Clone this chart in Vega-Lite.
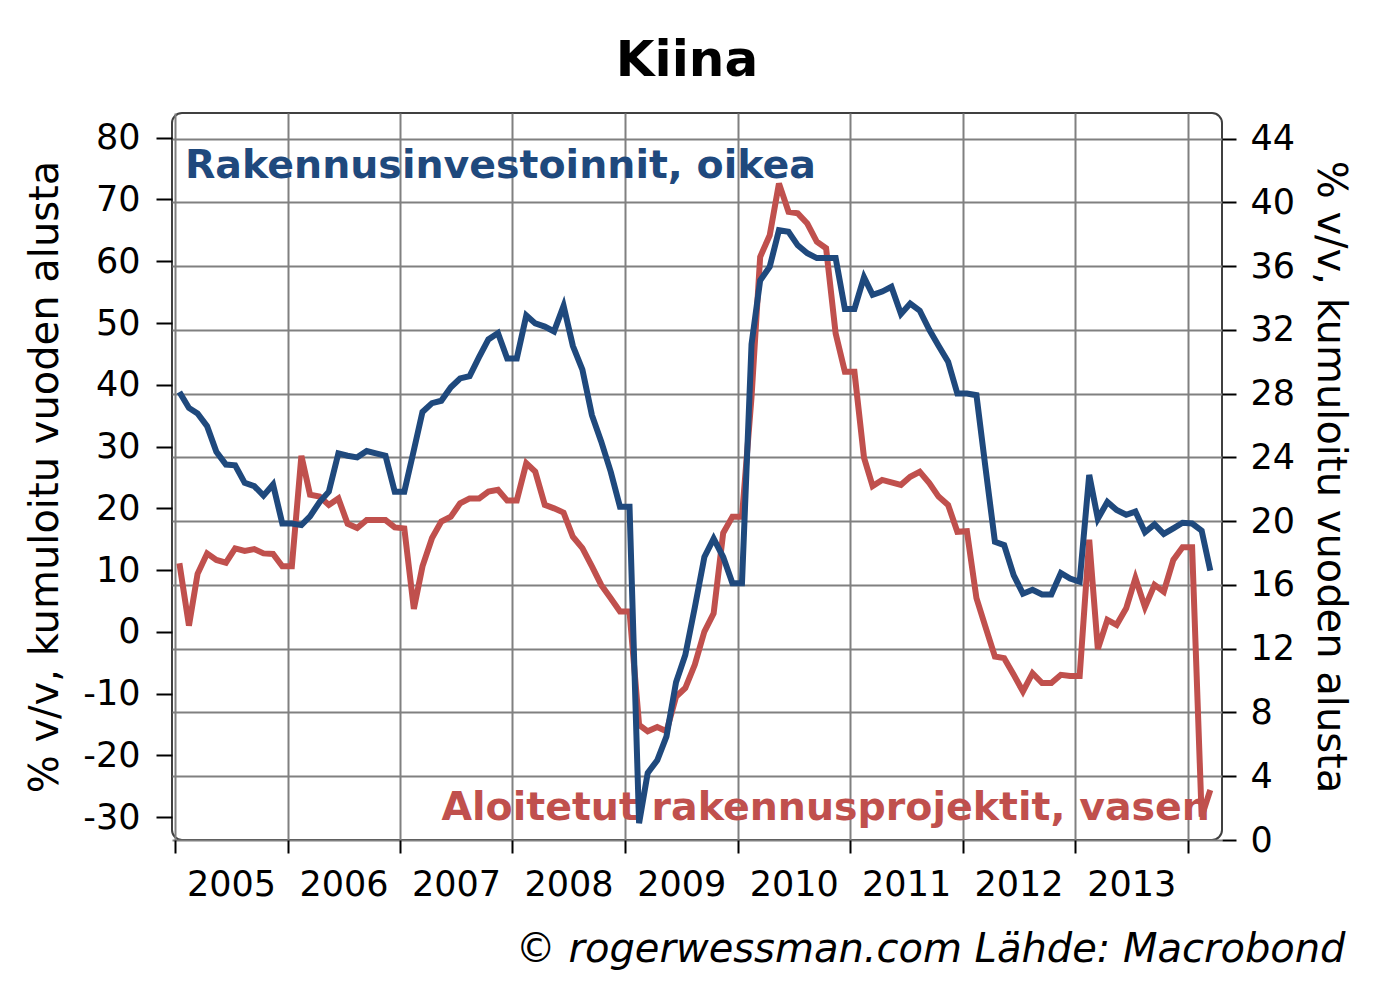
{
  "$schema": "https://vega.github.io/schema/vega-lite/v6.json",
  "width": 1050,
  "height": 727,
  "autosize": {"type": "none"},
  "padding": {"left": 172, "top": 113, "right": 153, "bottom": 160},
  "background": "white",
  "title": {"text": "Kiina", "fontSize": 50, "font": "DejaVu Sans", "fontWeight": "bold", "anchor": "middle", "dx": -10, "dy": 49, "baseline": "alphabetic", "offset": 36, "color": "black"},
  "config": {
    "font": "DejaVu Sans",
    "view": {"stroke": "#404040", "strokeWidth": 2, "cornerRadius": 10}
  },
  "datasets": {
    "series": [
      {"date": "2005-01-15", "aloitetut": 11.1, "investoinnit": 28.1},
      {"date": "2005-02-15", "aloitetut": 1.0, "investoinnit": 27.1},
      {"date": "2005-03-15", "aloitetut": 9.4, "investoinnit": 26.75},
      {"date": "2005-04-15", "aloitetut": 12.7, "investoinnit": 25.95},
      {"date": "2005-05-15", "aloitetut": 11.65, "investoinnit": 24.35},
      {"date": "2005-06-15", "aloitetut": 11.2, "investoinnit": 23.55},
      {"date": "2005-07-15", "aloitetut": 13.5, "investoinnit": 23.5},
      {"date": "2005-08-15", "aloitetut": 13.1, "investoinnit": 22.4},
      {"date": "2005-09-15", "aloitetut": 13.4, "investoinnit": 22.2},
      {"date": "2005-10-15", "aloitetut": 12.7, "investoinnit": 21.6},
      {"date": "2005-11-15", "aloitetut": 12.6, "investoinnit": 22.3},
      {"date": "2005-12-15", "aloitetut": 10.6, "investoinnit": 19.85},
      {"date": "2006-01-15", "aloitetut": 10.6, "investoinnit": 19.85},
      {"date": "2006-02-15", "aloitetut": 28.5, "investoinnit": 19.75},
      {"date": "2006-03-15", "aloitetut": 22.2, "investoinnit": 20.3},
      {"date": "2006-04-15", "aloitetut": 21.9, "investoinnit": 21.2},
      {"date": "2006-05-15", "aloitetut": 20.55, "investoinnit": 21.85},
      {"date": "2006-06-15", "aloitetut": 21.6, "investoinnit": 24.25},
      {"date": "2006-07-15", "aloitetut": 17.5, "investoinnit": 24.1},
      {"date": "2006-08-15", "aloitetut": 16.8, "investoinnit": 24.0},
      {"date": "2006-09-15", "aloitetut": 18.1, "investoinnit": 24.4},
      {"date": "2006-10-15", "aloitetut": 18.1, "investoinnit": 24.25},
      {"date": "2006-11-15", "aloitetut": 18.1, "investoinnit": 24.1},
      {"date": "2006-12-15", "aloitetut": 16.9, "investoinnit": 21.85},
      {"date": "2007-01-15", "aloitetut": 16.75, "investoinnit": 21.85},
      {"date": "2007-02-15", "aloitetut": 3.7, "investoinnit": 24.45},
      {"date": "2007-03-15", "aloitetut": 10.6, "investoinnit": 26.85},
      {"date": "2007-04-15", "aloitetut": 15.2, "investoinnit": 27.4},
      {"date": "2007-05-15", "aloitetut": 17.85, "investoinnit": 27.55},
      {"date": "2007-06-15", "aloitetut": 18.65, "investoinnit": 28.4},
      {"date": "2007-07-15", "aloitetut": 20.8, "investoinnit": 28.95},
      {"date": "2007-08-15", "aloitetut": 21.6, "investoinnit": 29.1},
      {"date": "2007-09-15", "aloitetut": 21.6, "investoinnit": 30.3},
      {"date": "2007-10-15", "aloitetut": 22.7, "investoinnit": 31.4},
      {"date": "2007-11-15", "aloitetut": 23.0, "investoinnit": 31.8},
      {"date": "2007-12-15", "aloitetut": 21.25, "investoinnit": 30.2},
      {"date": "2008-01-15", "aloitetut": 21.25, "investoinnit": 30.2},
      {"date": "2008-02-15", "aloitetut": 27.3, "investoinnit": 32.9},
      {"date": "2008-03-15", "aloitetut": 25.95, "investoinnit": 32.4},
      {"date": "2008-04-15", "aloitetut": 20.55, "investoinnit": 32.2},
      {"date": "2008-05-15", "aloitetut": 20.0, "investoinnit": 31.9},
      {"date": "2008-06-15", "aloitetut": 19.3, "investoinnit": 33.5},
      {"date": "2008-07-15", "aloitetut": 15.4, "investoinnit": 31.0},
      {"date": "2008-08-15", "aloitetut": 13.55, "investoinnit": 29.5},
      {"date": "2008-09-15", "aloitetut": 10.6, "investoinnit": 26.65},
      {"date": "2008-10-15", "aloitetut": 7.6, "investoinnit": 25.0},
      {"date": "2008-11-15", "aloitetut": 5.45, "investoinnit": 23.1},
      {"date": "2008-12-15", "aloitetut": 3.3, "investoinnit": 20.9},
      {"date": "2009-01-15", "aloitetut": 3.3, "investoinnit": 20.9},
      {"date": "2009-02-15", "aloitetut": -15.05, "investoinnit": 1.05},
      {"date": "2009-03-15", "aloitetut": -16.1, "investoinnit": 4.2},
      {"date": "2009-04-15", "aloitetut": -15.4, "investoinnit": 5.0},
      {"date": "2009-05-15", "aloitetut": -16.1, "investoinnit": 6.5},
      {"date": "2009-06-15", "aloitetut": -10.5, "investoinnit": 9.9},
      {"date": "2009-07-15", "aloitetut": -9.1, "investoinnit": 11.6},
      {"date": "2009-08-15", "aloitetut": -5.3, "investoinnit": 14.6},
      {"date": "2009-09-15", "aloitetut": 0.05, "investoinnit": 17.75},
      {"date": "2009-10-15", "aloitetut": 3.0, "investoinnit": 18.9},
      {"date": "2009-11-15", "aloitetut": 16.0, "investoinnit": 17.75},
      {"date": "2009-12-15", "aloitetut": 18.65, "investoinnit": 16.1},
      {"date": "2010-01-15", "aloitetut": 18.65, "investoinnit": 16.1},
      {"date": "2010-02-15", "aloitetut": 38.0, "investoinnit": 31.1},
      {"date": "2010-03-15", "aloitetut": 60.7, "investoinnit": 35.1},
      {"date": "2010-04-15", "aloitetut": 64.2, "investoinnit": 35.95},
      {"date": "2010-05-15", "aloitetut": 72.6, "investoinnit": 38.25},
      {"date": "2010-06-15", "aloitetut": 68.0, "investoinnit": 38.15},
      {"date": "2010-07-15", "aloitetut": 67.75, "investoinnit": 37.3},
      {"date": "2010-08-15", "aloitetut": 66.1, "investoinnit": 36.8},
      {"date": "2010-09-15", "aloitetut": 63.15, "investoinnit": 36.5},
      {"date": "2010-10-15", "aloitetut": 62.1, "investoinnit": 36.5},
      {"date": "2010-11-15", "aloitetut": 48.3, "investoinnit": 36.5},
      {"date": "2010-12-15", "aloitetut": 42.1, "investoinnit": 33.3},
      {"date": "2011-01-15", "aloitetut": 42.1, "investoinnit": 33.3},
      {"date": "2011-02-15", "aloitetut": 28.2, "investoinnit": 35.3},
      {"date": "2011-03-15", "aloitetut": 23.6, "investoinnit": 34.2},
      {"date": "2011-04-15", "aloitetut": 24.6, "investoinnit": 34.4},
      {"date": "2011-05-15", "aloitetut": 24.2, "investoinnit": 34.7},
      {"date": "2011-06-15", "aloitetut": 23.8, "investoinnit": 33.0},
      {"date": "2011-07-15", "aloitetut": 25.1, "investoinnit": 33.65},
      {"date": "2011-08-15", "aloitetut": 25.9, "investoinnit": 33.2},
      {"date": "2011-09-15", "aloitetut": 24.1, "investoinnit": 32.0},
      {"date": "2011-10-15", "aloitetut": 21.9, "investoinnit": 31.0},
      {"date": "2011-11-15", "aloitetut": 20.55, "investoinnit": 30.0},
      {"date": "2011-12-15", "aloitetut": 16.2, "investoinnit": 28.0},
      {"date": "2012-01-15", "aloitetut": 16.3, "investoinnit": 28.0},
      {"date": "2012-02-15", "aloitetut": 5.45, "investoinnit": 27.9},
      {"date": "2012-03-15", "aloitetut": 0.86, "investoinnit": 23.4},
      {"date": "2012-04-15", "aloitetut": -4.0, "investoinnit": 18.7},
      {"date": "2012-05-15", "aloitetut": -4.26, "investoinnit": 18.5},
      {"date": "2012-06-15", "aloitetut": -6.96, "investoinnit": 16.6},
      {"date": "2012-07-15", "aloitetut": -9.66, "investoinnit": 15.45},
      {"date": "2012-08-15", "aloitetut": -6.7, "investoinnit": 15.7},
      {"date": "2012-09-15", "aloitetut": -8.3, "investoinnit": 15.4},
      {"date": "2012-10-15", "aloitetut": -8.3, "investoinnit": 15.4},
      {"date": "2012-11-15", "aloitetut": -6.96, "investoinnit": 16.75},
      {"date": "2012-12-15", "aloitetut": -7.15, "investoinnit": 16.4},
      {"date": "2013-01-15", "aloitetut": -7.15, "investoinnit": 16.2},
      {"date": "2013-02-15", "aloitetut": 14.9, "investoinnit": 22.9},
      {"date": "2013-03-15", "aloitetut": -2.8, "investoinnit": 20.15},
      {"date": "2013-04-15", "aloitetut": 1.94, "investoinnit": 21.2},
      {"date": "2013-05-15", "aloitetut": 1.13, "investoinnit": 20.7},
      {"date": "2013-06-15", "aloitetut": 3.8, "investoinnit": 20.4},
      {"date": "2013-07-15", "aloitetut": 8.7, "investoinnit": 20.6},
      {"date": "2013-08-15", "aloitetut": 4.0, "investoinnit": 19.3},
      {"date": "2013-09-15", "aloitetut": 7.6, "investoinnit": 19.8},
      {"date": "2013-10-15", "aloitetut": 6.5, "investoinnit": 19.2},
      {"date": "2013-11-15", "aloitetut": 11.65, "investoinnit": 19.55},
      {"date": "2013-12-15", "aloitetut": 13.7, "investoinnit": 19.9},
      {"date": "2014-01-15", "aloitetut": 13.7, "investoinnit": 19.85},
      {"date": "2014-02-15", "aloitetut": -29.9, "investoinnit": 19.4},
      {"date": "2014-03-15", "aloitetut": -25.6, "investoinnit": 16.9}
    ]
  },
  "layer": [
    {
      "layer": [
        {
          "data": {"name": "series"},
          "mark": {"type": "line", "color": "#C0504D", "strokeWidth": 6},
          "encoding": {
            "x": {
              "field": "date", "type": "temporal",
              "scale": {"domain": [{"year": 2004, "month": 12, "date": 22}, {"year": 2014, "month": 4, "date": 22}], "nice": false},
              "axis": {
                "orient": "bottom",
                "tickCount": {"interval": "year", "step": 1},
                "format": "%Y",
                "labelOffset": 56,
                "labelExpr": "year(datum.value) >= 2014 ? '' : datum.label",
                "labelAlign": "center",
                "labelBaseline": "alphabetic",
                "labelPadding": 42,
                "labelFontSize": 35,
                "labelColor": "black",
                "labelOverlap": false,
                "labelFlush": false,
                "labelBound": false,
                "tickSize": 13,
                "tickWidth": 2,
                "tickColor": "black",
                "grid": true,
                "gridColor": "#808080",
                "gridWidth": 2,
                "domain": false,
                "title": "© rogerwessman.com Lähde: Macrobond",
                "titleFontSize": 40,
                "titleFontStyle": "italic",
                "titleFontWeight": "normal",
                "titleColor": "black",
                "titleAnchor": "end",
                "titleAlign": "right",
                "titleBaseline": "alphabetic",
                "titleX": 1173,
                "titleY": 121
              }
            },
            "y": {
              "field": "aloitetut", "type": "quantitative",
              "scale": {"domain": [-33.7, 84], "nice": false, "zero": false},
              "axis": {
                "orient": "left",
                "values": [-30, -20, -10, 0, 10, 20, 30, 40, 50, 60, 70, 80],
                "labelExpr": "datum.value < 0 ? '-' + abs(datum.value) : '' + datum.value",
                "grid": false,
                "domain": false,
                "tickSize": 16,
                "tickWidth": 2,
                "tickColor": "black",
                "labelFontSize": 35,
                "labelPadding": 16,
                "labelColor": "black",
                "title": "% v/v, kumuloitu vuoden alusta",
                "titleFontSize": 40,
                "titleFontWeight": "normal",
                "titleColor": "black",
                "titlePadding": 17
              }
            }
          }
        },
        {
          "data": {"values": [{"pvm": "2014-03-14", "arvo": -30.4, "teksti": "Aloitetut rakennusprojektit, vasen"}]},
          "mark": {"type": "text", "align": "right", "baseline": "alphabetic", "fontSize": 39.5, "fontWeight": "bold", "color": "#C0504D"},
          "encoding": {
            "x": {"field": "pvm", "type": "temporal"},
            "y": {"field": "arvo", "type": "quantitative", "scale": {"domain": [-33.7, 84], "nice": false, "zero": false}, "axis": {"orient": "left"}},
            "text": {"field": "teksti"}
          }
        }
      ]
    },
    {
      "layer": [
        {
          "data": {"name": "series"},
          "mark": {"type": "line", "color": "#1F497D", "strokeWidth": 6},
          "encoding": {
            "x": {"field": "date", "type": "temporal"},
            "y": {
              "field": "investoinnit", "type": "quantitative",
              "scale": {"domain": [0, 45.6], "nice": false, "zero": false},
              "axis": {
                "orient": "right",
                "values": [0, 4, 8, 12, 16, 20, 24, 28, 32, 36, 40, 44],
                "grid": true,
                "gridColor": "#808080",
                "gridWidth": 2,
                "domain": false,
                "tickSize": 14,
                "tickWidth": 2,
                "tickColor": "black",
                "labelFontSize": 35,
                "labelPadding": 14,
                "labelColor": "black",
                "title": "% v/v, kumuloitu vuoden alusta",
                "titleFontSize": 40,
                "titleFontWeight": "normal",
                "titleColor": "black",
                "titlePadding": 15
              }
            }
          }
        },
        {
          "data": {"values": [{"pvm": "2005-02-02", "arvo": 41.5, "teksti": "Rakennusinvestoinnit, oikea"}]},
          "mark": {"type": "text", "align": "left", "baseline": "alphabetic", "fontSize": 39.5, "fontWeight": "bold", "color": "#1F497D"},
          "encoding": {
            "x": {"field": "pvm", "type": "temporal"},
            "y": {"field": "arvo", "type": "quantitative", "scale": {"domain": [0, 45.6], "nice": false, "zero": false}, "axis": {"orient": "right"}},
            "text": {"field": "teksti"}
          }
        }
      ]
    }
  ],
  "resolve": {"scale": {"y": "independent"}}
}
